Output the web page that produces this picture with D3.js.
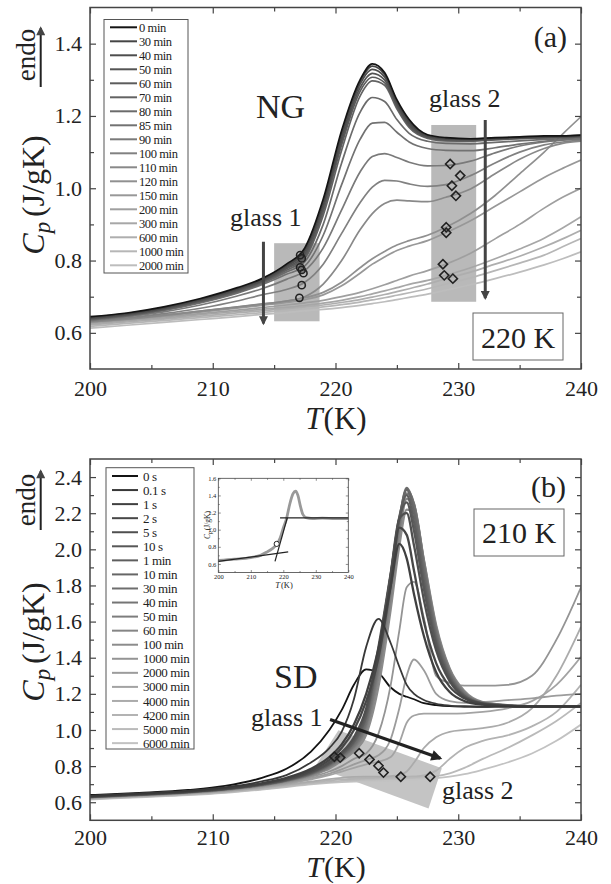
<!DOCTYPE html>
<html>
<head>
<meta charset="utf-8">
<script src="https://cdn.jsdelivr.net/npm/d3@7"></script>
<style>
  body { margin: 0; background: #fff; }
  svg text { font-family: 'Liberation Serif', 'Times New Roman', serif; fill: #222; }
</style>
</head>
<body>
<div id="chart"></div>
<script>

// Data, panel (a): NG, annealed at 220 K

var tempsA = [200, 203, 206, 209, 212, 214, 216, 217.5, 219, 220.5, 222, 223, 224, 225, 226, 227.5, 229, 231, 233, 235, 237, 238.5, 240];

var namesA = ['0 min', '30 min', '40 min', '50 min', '60 min', '70 min', '80 min', '85 min', '90 min', '100 min',
  '110 min', '120 min', '150 min', '200 min', '300 min', '600 min', '1000 min', '2000 min'];

var cpA = [
  [0.645,0.655,0.672,0.695,0.725,0.750,0.790,0.835,0.970,1.160,1.300,1.344,1.320,1.245,1.190,1.148,1.140,1.137,1.140,1.142,1.145,1.145,1.147],
  [0.643,0.653,0.670,0.693,0.722,0.748,0.787,0.830,0.960,1.150,1.295,1.338,1.315,1.240,1.185,1.146,1.138,1.136,1.139,1.141,1.143,1.144,1.146],
  [0.641,0.652,0.668,0.691,0.720,0.745,0.784,0.825,0.955,1.140,1.288,1.329,1.308,1.235,1.180,1.144,1.137,1.135,1.138,1.140,1.142,1.143,1.145],
  [0.640,0.650,0.667,0.690,0.718,0.743,0.780,0.818,0.945,1.130,1.278,1.318,1.300,1.230,1.175,1.142,1.135,1.134,1.137,1.139,1.141,1.142,1.144],
  [0.638,0.649,0.665,0.688,0.716,0.741,0.777,0.812,0.935,1.120,1.268,1.307,1.292,1.225,1.172,1.140,1.133,1.132,1.135,1.138,1.140,1.141,1.143],
  [0.637,0.648,0.664,0.686,0.714,0.739,0.773,0.806,0.925,1.105,1.255,1.297,1.285,1.220,1.168,1.138,1.131,1.130,1.134,1.137,1.139,1.140,1.142],
  [0.636,0.647,0.663,0.685,0.712,0.736,0.768,0.797,0.900,1.070,1.210,1.251,1.240,1.190,1.152,1.130,1.124,1.123,1.127,1.131,1.135,1.137,1.140],
  [0.635,0.646,0.662,0.683,0.710,0.733,0.762,0.785,0.870,1.010,1.135,1.180,1.182,1.155,1.128,1.110,1.105,1.104,1.112,1.122,1.130,1.134,1.137],
  [0.634,0.644,0.658,0.677,0.702,0.722,0.748,0.772,0.835,0.940,1.045,1.088,1.096,1.085,1.072,1.062,1.063,1.075,1.098,1.117,1.128,1.133,1.136],
  [0.632,0.641,0.653,0.668,0.688,0.705,0.720,0.740,0.790,0.875,0.960,1.003,1.022,1.020,1.012,1.005,1.010,1.035,1.070,1.100,1.120,1.128,1.133],
  [0.630,0.638,0.648,0.660,0.672,0.680,0.688,0.700,0.735,0.800,0.885,0.930,0.958,0.967,0.965,0.963,0.975,0.998,1.040,1.080,1.110,1.124,1.130],
  [0.632,0.640,0.650,0.660,0.671,0.679,0.688,0.697,0.712,0.740,0.780,0.805,0.825,0.843,0.855,0.870,0.892,0.930,0.980,1.040,1.100,1.150,1.198],
  [0.630,0.638,0.647,0.657,0.668,0.676,0.684,0.692,0.705,0.730,0.765,0.790,0.810,0.828,0.840,0.855,0.877,0.910,0.950,0.990,1.030,1.055,1.078],
  [0.628,0.636,0.644,0.653,0.663,0.670,0.677,0.683,0.690,0.700,0.712,0.722,0.733,0.745,0.757,0.772,0.790,0.820,0.860,0.900,0.945,0.975,1.000],
  [0.625,0.633,0.641,0.650,0.659,0.665,0.671,0.676,0.682,0.690,0.700,0.708,0.716,0.725,0.734,0.745,0.759,0.780,0.805,0.832,0.862,0.890,0.921],
  [0.622,0.630,0.638,0.646,0.655,0.661,0.667,0.672,0.677,0.684,0.692,0.699,0.706,0.714,0.722,0.735,0.750,0.768,0.790,0.812,0.838,0.860,0.884],
  [0.618,0.626,0.634,0.642,0.650,0.656,0.662,0.667,0.672,0.678,0.685,0.691,0.697,0.704,0.711,0.722,0.735,0.752,0.772,0.793,0.815,0.838,0.861],
  [0.613,0.621,0.629,0.637,0.645,0.651,0.656,0.661,0.665,0.670,0.676,0.681,0.686,0.692,0.698,0.707,0.718,0.733,0.750,0.768,0.788,0.805,0.824]
];

var circlesA = [[217.12,0.815],[217.25,0.806],[217.12,0.781],[217.25,0.774],[217.39,0.765],[217.25,0.732],[217.06,0.697]];
var diamondsA = [[229.34,1.067],[230.16,1.035],[229.48,1.007],[229.81,0.979],[229.02,0.892],[229.02,0.877],[228.75,0.790],[228.86,0.759],[229.56,0.750]];
var boxesA = [[215.0, 218.7, 0.632, 0.848], [227.8, 231.46, 0.686, 1.175]];   // T0, T1, Cp0, Cp1
var arrowsA = [[[214.13,0.852],[214.13,0.626]], [[232.2,1.189],[232.2,0.696]]];

// Data, panel (b): SD, annealed at 210 K

var tempsB = [200, 204, 208, 211, 214, 216, 218, 219.5, 220.5, 221.5, 222.5, 223.5, 224.5, 225.2, 225.8, 226.4, 227.2, 228.2, 229.3, 230.5, 232, 234, 236, 238, 240];

var namesB = ['0 s', '0.1 s', '1 s', '2 s', '5 s', '10 s', '1 min', '10 min', '30 min', '40 min', '50 min', '60 min',
  '100 min', '1000 min', '2000 min', '3000 min', '4000 min', '4200 min', '5000 min', '6000 min'];

var cpB = [
  [0.640,0.652,0.668,0.690,0.735,0.785,0.880,1.000,1.110,1.250,1.335,1.315,1.235,1.200,1.184,1.170,1.148,1.138,1.132,1.130,1.128,1.130,1.130,1.128,1.130],
  [0.635,0.648,0.663,0.682,0.715,0.750,0.820,0.900,0.990,1.170,1.460,1.615,1.480,1.350,1.250,1.200,1.166,1.145,1.135,1.130,1.130,1.130,1.130,1.130,1.130],
  [0.633,0.646,0.660,0.678,0.705,0.735,0.785,0.850,0.920,1.030,1.200,1.450,1.800,2.030,1.950,1.750,1.520,1.320,1.210,1.160,1.140,1.132,1.130,1.130,1.130],
  [0.632,0.645,0.659,0.676,0.702,0.730,0.775,0.835,0.900,1.000,1.160,1.400,1.800,2.120,2.080,1.880,1.600,1.370,1.240,1.175,1.145,1.133,1.130,1.130,1.130],
  [0.632,0.644,0.658,0.674,0.700,0.726,0.768,0.820,0.875,0.960,1.120,1.460,1.870,2.170,2.200,2.020,1.720,1.440,1.270,1.180,1.145,1.134,1.130,1.130,1.130],
  [0.631,0.644,0.658,0.674,0.699,0.724,0.765,0.815,0.868,0.945,1.100,1.440,1.860,2.170,2.260,2.100,1.780,1.470,1.280,1.185,1.146,1.134,1.130,1.130,1.130],
  [0.631,0.643,0.657,0.673,0.698,0.723,0.762,0.812,0.863,0.935,1.080,1.430,1.860,2.180,2.300,2.150,1.820,1.490,1.290,1.188,1.147,1.135,1.130,1.130,1.130],
  [0.630,0.643,0.657,0.673,0.698,0.722,0.760,0.810,0.860,0.930,1.070,1.420,1.850,2.170,2.330,2.200,1.860,1.510,1.300,1.190,1.147,1.135,1.130,1.130,1.130],
  [0.630,0.642,0.656,0.672,0.697,0.721,0.758,0.806,0.855,0.920,1.050,1.390,1.830,2.160,2.340,2.240,1.900,1.530,1.310,1.195,1.148,1.135,1.130,1.130,1.130],
  [0.629,0.642,0.656,0.672,0.696,0.720,0.756,0.802,0.850,0.912,1.035,1.360,1.800,2.140,2.330,2.250,1.920,1.550,1.320,1.200,1.150,1.136,1.130,1.130,1.130],
  [0.629,0.641,0.655,0.671,0.695,0.719,0.754,0.798,0.845,0.905,1.020,1.330,1.770,2.120,2.310,2.250,1.930,1.560,1.330,1.205,1.151,1.136,1.130,1.130,1.130],
  [0.628,0.641,0.655,0.670,0.694,0.717,0.751,0.793,0.838,0.895,1.000,1.290,1.730,2.080,2.280,2.240,1.940,1.570,1.335,1.210,1.152,1.137,1.130,1.130,1.130],
  [0.628,0.640,0.654,0.669,0.693,0.715,0.747,0.787,0.830,0.882,0.975,1.240,1.670,2.020,2.220,2.210,1.940,1.580,1.340,1.215,1.154,1.138,1.130,1.130,1.130],
  [0.627,0.640,0.653,0.667,0.690,0.710,0.740,0.770,0.800,0.840,0.870,0.980,1.250,1.550,1.790,1.820,1.620,1.300,1.260,1.245,1.245,1.250,1.300,1.500,1.790],
  [0.625,0.638,0.651,0.665,0.687,0.706,0.733,0.758,0.782,0.810,0.835,0.860,0.950,1.120,1.300,1.390,1.330,1.200,1.160,1.150,1.155,1.165,1.175,1.190,1.200],
  [0.624,0.636,0.649,0.663,0.684,0.702,0.727,0.750,0.770,0.790,0.810,0.825,0.850,0.930,1.040,1.080,1.090,1.090,1.090,1.092,1.100,1.120,1.160,1.250,1.405],
  [0.622,0.634,0.647,0.660,0.680,0.697,0.715,0.728,0.735,0.740,0.742,0.742,0.745,0.750,0.770,0.820,0.900,0.960,0.990,1.000,1.010,1.040,1.120,1.300,1.571],
  [0.620,0.632,0.645,0.658,0.677,0.693,0.710,0.720,0.726,0.730,0.733,0.735,0.737,0.739,0.741,0.743,0.748,0.775,0.840,0.900,0.940,0.970,1.020,1.100,1.250],
  [0.618,0.630,0.642,0.655,0.673,0.688,0.704,0.713,0.718,0.722,0.725,0.727,0.729,0.731,0.733,0.735,0.738,0.745,0.760,0.790,0.840,0.900,0.970,1.050,1.150],
  [0.615,0.627,0.639,0.652,0.670,0.684,0.699,0.707,0.711,0.714,0.716,0.718,0.720,0.722,0.724,0.726,0.729,0.734,0.742,0.755,0.780,0.820,0.870,0.940,1.030]
];

var diamondsB = [[219.91,0.852],[220.38,0.847],[221.93,0.871],[222.77,0.837],[223.5,0.802],[223.91,0.764],[225.32,0.741],[227.71,0.741]];
var glassBoxB = [[220.24,0.999],[228.66,0.788],[227.58,0.566],[218.34,0.797]];
var arrowB = [[219.56,1.058],[228.53,0.843]];

// Inset of panel (b): onset construction

var insetT  = [200, 205, 210, 213, 215, 216.5, 218, 219, 220, 221, 222, 223, 223.8, 224.5, 225.3, 226, 227, 229, 232, 236, 240];
var insetCp = [0.640,0.655,0.675,0.700,0.740,0.775,0.830,0.900,1.020,1.130,1.300,1.420,1.450,1.400,1.270,1.180,1.140,1.130,1.135,1.130,1.130];
var insetLines = [[[200,0.63],[221.5,0.74]], [[217.45,0.63],[221.23,1.139]], [[219,1.139],[240,1.139]]];
var insetCircle = [217.97, 0.834];

// Tick values

var xMajor = [200, 210, 220, 230, 240];
var xMinor = [205, 215, 225, 235];
var yMajorA = [0.6, 0.8, 1.0, 1.2, 1.4];
var yMinorA = [0.7, 0.9, 1.1, 1.3];
var yMajorB = [0.6, 0.8, 1.0, 1.2, 1.4, 1.6, 1.8, 2.0, 2.2, 2.4];
var yMinorB = [0.7, 0.9, 1.1, 1.3, 1.5, 1.7, 1.9, 2.1, 2.3];
var insetYMajor = [0.6, 0.8, 1.0, 1.2, 1.4, 1.6];
var insetYMinor = [0.7, 0.9, 1.1, 1.3, 1.5];

// Dimensions

var width = 611;
var height = 884;
var left = 90, right = 581;

var svg = d3.select("#chart")
  .append("svg")
  .attr("width", width)
  .attr("height", height);

svg.append("rect").attr("width", width).attr("height", height).attr("fill", "#fff");

var defs = svg.append("defs");

function arrowMarker(id, color, w, h) {
  defs.append("marker")
    .attr("id", id)
    .attr("viewBox", "0 0 10 10")
    .attr("refX", 8).attr("refY", 5)
    .attr("markerUnits", "userSpaceOnUse")
    .attr("markerWidth", w).attr("markerHeight", h)
    .attr("orient", "auto")
    .append("path")
    .attr("d", "M0,0 L10,5 L0,10 Z")
    .attr("fill", color);
}
arrowMarker("headA", "#444", 12, 9);
arrowMarker("headB", "#222", 15, 11);

var x = d3.scaleLinear().domain([200, 240]).range([left, right]);

function shade(n, first, from, to) {
  var ramp = d3.interpolateRgb(from, to);
  return d3.range(n).map(function (i) { return i === 0 ? first : ramp((i - 1) / (n - 2)); });
}

// Axes on all four sides, ticks pointing inward

function frameAxes(g, xs, ys, top, bottom, yMajor, yMinor, opts) {
  var big = opts.big, small = opts.small;

  g.append("g").attr("transform", "translate(0," + bottom + ")")
    .call(d3.axisBottom(xs).tickValues(xMajor).tickSize(-big).tickPadding(opts.xPad).tickFormat(d3.format("d")));
  g.append("g").attr("transform", "translate(0," + bottom + ")")
    .call(d3.axisBottom(xs).tickValues(xMinor).tickSize(-small).tickFormat(""));
  g.append("g").attr("transform", "translate(0," + top + ")")
    .call(d3.axisTop(xs).tickValues(xMajor).tickSize(-big).tickFormat(""));
  g.append("g").attr("transform", "translate(0," + top + ")")
    .call(d3.axisTop(xs).tickValues(xMinor).tickSize(-small).tickFormat(""));

  g.append("g").attr("transform", "translate(" + xs.range()[0] + ",0)")
    .call(d3.axisLeft(ys).tickValues(yMajor).tickSize(-big).tickPadding(opts.yPad).tickFormat(d3.format(".1f")));
  g.append("g").attr("transform", "translate(" + xs.range()[0] + ",0)")
    .call(d3.axisLeft(ys).tickValues(yMinor).tickSize(-small).tickFormat(""));
  g.append("g").attr("transform", "translate(" + xs.range()[1] + ",0)")
    .call(d3.axisRight(ys).tickValues(yMajor).tickSize(-big).tickFormat(""));
  g.append("g").attr("transform", "translate(" + xs.range()[1] + ",0)")
    .call(d3.axisRight(ys).tickValues(yMinor).tickSize(-small).tickFormat(""));

  g.selectAll(".domain").remove();
  g.selectAll(".tick line").attr("stroke", "#444").attr("stroke-width", opts.tickW);
  g.selectAll("g").attr("font-family", null).attr("font-size", null);
  g.selectAll(".tick text").style("font-size", opts.font + "px").attr("fill", "#222");

  g.append("rect")
    .attr("x", xs.range()[0]).attr("y", top)
    .attr("width", xs.range()[1] - xs.range()[0]).attr("height", bottom - top)
    .attr("fill", "none").attr("stroke", "#444").attr("stroke-width", opts.frameW);
}

function yTitle(g, cx, cy, size) {
  var t = g.append("text")
    .attr("transform", "translate(" + cx + "," + cy + ") rotate(-90)")
    .attr("text-anchor", "middle")
    .style("font-size", size + "px");
  t.append("tspan").style("font-style", "italic").text("C");
  t.append("tspan").style("font-style", "italic").style("font-size", (size * 0.72) + "px").attr("dy", size * 0.2).text("p");
  t.append("tspan").attr("dy", -size * 0.2).attr("dx", size * 0.15).text("(J/gK)");
}

function xTitle(g, cx, by, size) {
  var t = g.append("text")
    .attr("x", cx).attr("y", by)
    .attr("text-anchor", "middle")
    .style("font-size", size + "px");
  t.append("tspan").style("font-style", "italic").text("T");
  t.append("tspan").attr("dx", 1).text("(K)");
}

function endo(g, cy, y0, y1) {
  g.append("text")
    .attr("transform", "translate(35," + cy + ") rotate(-90)")
    .attr("text-anchor", "middle")
    .style("font-size", "27px")
    .text("endo");
  g.append("line")
    .attr("x1", 40.7).attr("x2", 40.7)
    .attr("y1", y0).attr("y2", y1 + 4)
    .attr("stroke", "#222").attr("stroke-width", 2)
    .attr("marker-end", "url(#headA)");
}

function legend(g, names, colors, box, y0, step, lx0, lx1, tx, size) {
  g.append("rect")
    .attr("x", box[0]).attr("y", box[1]).attr("width", box[2]).attr("height", box[3])
    .attr("fill", "#fff").attr("stroke", "#555").attr("stroke-width", 1);
  names.forEach(function (n, i) {
    var yy = y0 + i * step;
    g.append("line")
      .attr("x1", lx0).attr("x2", lx1).attr("y1", yy).attr("y2", yy)
      .attr("stroke", colors[i]).attr("stroke-width", 2);
    g.append("text")
      .attr("x", tx).attr("y", yy).attr("dy", "0.35em")
      .style("font-size", size + "px")
      .style("letter-spacing", "-0.4px")
      .text(n);
  });
}

function diamond(g, xs, ys, d, r) {
  var cx = xs(d[0]), cy = ys(d[1]);
  g.append("path")
    .attr("d", "M" + cx + "," + (cy - r) + "L" + (cx + r) + "," + cy + "L" + cx + "," + (cy + r) + "L" + (cx - r) + "," + cy + "Z")
    .attr("fill", "none").attr("stroke", "#222").attr("stroke-width", 1.6);
}

// Panel (a)

var topA = 7.5, bottomA = 369;
var yA = d3.scaleLinear().domain([0.5, 1.5]).range([bottomA, topA]);
var gA = svg.append("g");
var colorsA = shade(namesA.length, "#141414", "#454545", "#bdbdbd");

defs.append("clipPath").attr("id", "clipA").append("rect")
  .attr("x", left).attr("y", topA).attr("width", right - left).attr("height", bottomA - topA);
defs.append("clipPath").attr("id", "clipB").append("rect")
  .attr("x", left).attr("y", 459).attr("width", right - left).attr("height", 820.3 - 459);

var plotA = gA.append("g").attr("clip-path", "url(#clipA)");

boxesA.forEach(function (b) {
  plotA.append("rect")
    .attr("x", x(b[0])).attr("y", yA(b[3]))
    .attr("width", x(b[1]) - x(b[0])).attr("height", yA(b[2]) - yA(b[3]))
    .attr("fill", "#b9b9b9");
});

var lineA = d3.line()
  .x(function (d, i) { return x(tempsA[i]); })
  .y(function (d) { return yA(d); })
  .curve(d3.curveMonotoneX);

for (var i = cpA.length - 1; i >= 0; i--) {
  plotA.append("path")
    .attr("d", lineA(cpA[i]))
    .attr("fill", "none")
    .attr("stroke", colorsA[i])
    .attr("stroke-width", 1.7);
}

arrowsA.forEach(function (a) {
  plotA.append("line")
    .attr("x1", x(a[0][0])).attr("y1", yA(a[0][1]))
    .attr("x2", x(a[1][0])).attr("y2", yA(a[1][1]))
    .attr("stroke", "#444").attr("stroke-width", 3)
    .attr("marker-end", "url(#headA)");
});

circlesA.forEach(function (c) {
  plotA.append("circle")
    .attr("cx", x(c[0])).attr("cy", yA(c[1])).attr("r", 3.6)
    .attr("fill", "none").attr("stroke", "#222").attr("stroke-width", 1.6);
});
diamondsA.forEach(function (d) { diamond(plotA, x, yA, d, 4.6); });

frameAxes(gA, x, yA, topA, bottomA, yMajorA, yMinorA,
  { big: 6, small: 4, xPad: 11, yPad: 8, font: 22, tickW: 1.2, frameW: 1.5 });

legend(gA, namesA, colorsA, [104, 19.5, 84, 253.5], 27.3, 14.0, 110, 137, 139, 12.5);

gA.append("text").attr("x", 567).attr("y", 47).attr("text-anchor", "end").style("font-size", "30px").text("(a)");
gA.append("text").attr("x", 256).attr("y", 118).style("font-size", "34px").text("NG");
gA.append("text").attr("x", 429).attr("y", 107).style("font-size", "26px").text("glass 2");
gA.append("text").attr("x", 230).attr("y", 226).style("font-size", "26px").text("glass 1");
gA.append("rect").attr("x", 473).attr("y", 313).attr("width", 90).attr("height", 47)
  .attr("fill", "#fff").attr("stroke", "#666").attr("stroke-width", 1);
gA.append("text").attr("x", 518).attr("y", 348).attr("text-anchor", "middle").style("font-size", "30px").text("220 K");

yTitle(gA, 44, 195, 32);
xTitle(gA, 336, 429, 31);
endo(gA, 55, 87, 24);

// Panel (b)

var topB = 459, bottomB = 820.3;
var yB = d3.scaleLinear().domain([0.5, 2.5]).range([bottomB, topB]);
var gB = svg.append("g");
var colorsB = shade(namesB.length, "#141414", "#383838", "#c2c2c2");

var plotB = gB.append("g").attr("clip-path", "url(#clipB)");

plotB.append("path")
  .attr("d", d3.line().x(function (d) { return x(d[0]); }).y(function (d) { return yB(d[1]); })(glassBoxB) + "Z")
  .attr("fill", "#c4c4c4");

var lineB = d3.line()
  .x(function (d, i) { return x(tempsB[i]); })
  .y(function (d) { return yB(d); })
  .curve(d3.curveMonotoneX);

// the 0 s curve goes underneath, so its plateau is covered by the grey band
var orderB = [0].concat(d3.range(cpB.length - 1, 0, -1));
orderB.forEach(function (j) {
  plotB.append("path")
    .attr("d", lineB(cpB[j]))
    .attr("fill", "none")
    .attr("stroke", colorsB[j])
    .attr("stroke-width", (j >= 2 && j <= 12) ? 2.3 : 1.8);
});

plotB.append("line")
  .attr("x1", x(arrowB[0][0])).attr("y1", yB(arrowB[0][1]))
  .attr("x2", x(arrowB[1][0])).attr("y2", yB(arrowB[1][1]))
  .attr("stroke", "#222").attr("stroke-width", 3.2)
  .attr("marker-end", "url(#headB)");

diamondsB.forEach(function (d) { diamond(plotB, x, yB, d, 4.6); });

frameAxes(gB, x, yB, topB, bottomB, yMajorB, yMinorB,
  { big: 6, small: 4, xPad: 9, yPad: 8, font: 22, tickW: 1.2, frameW: 1.5 });

legend(gB, namesB, colorsB, [106, 467.7, 88, 281.3], 476, 14.06, 112, 138, 143, 13);

gB.append("text").attr("x", 566).attr("y", 497).attr("text-anchor", "end").style("font-size", "30px").text("(b)");
gB.append("rect").attr("x", 474).attr("y", 509).attr("width", 90).attr("height", 47)
  .attr("fill", "#fff").attr("stroke", "#666").attr("stroke-width", 1);
gB.append("text").attr("x", 519).attr("y", 543).attr("text-anchor", "middle").style("font-size", "30px").text("210 K");
gB.append("text").attr("x", 274).attr("y", 688).style("font-size", "34px").text("SD");
gB.append("text").attr("x", 251).attr("y", 726).style("font-size", "26px").text("glass 1");
gB.append("text").attr("x", 442).attr("y", 799).style("font-size", "26px").text("glass 2");

yTitle(gB, 44, 642, 32);
xTitle(gB, 336, 876.5, 30);
endo(gB, 500, 530, 467);

// Inset of panel (b)

var xi = d3.scaleLinear().domain([200, 240]).range([218.3, 348.3]);
var yi = d3.scaleLinear().domain([0.5, 1.6]).range([572.5, 478.3]);
var gI = svg.append("g");

gI.append("rect").attr("x", 218.3).attr("y", 478.3).attr("width", 130).attr("height", 94.2).attr("fill", "#fff");

gI.append("path")
  .attr("d", d3.line().x(function (d, i) { return xi(insetT[i]); }).y(function (d) { return yi(d); })
    .curve(d3.curveMonotoneX)(insetCp))
  .attr("fill", "none").attr("stroke", "#999").attr("stroke-width", 2.8);

insetLines.forEach(function (l) {
  gI.append("line")
    .attr("x1", xi(l[0][0])).attr("y1", yi(l[0][1]))
    .attr("x2", xi(l[1][0])).attr("y2", yi(l[1][1]))
    .attr("stroke", "#222").attr("stroke-width", 1.2);
});

gI.append("circle")
  .attr("cx", xi(insetCircle[0])).attr("cy", yi(insetCircle[1])).attr("r", 2.6)
  .attr("fill", "#fff").attr("stroke", "#222").attr("stroke-width", 1);

frameAxes(gI, xi, yi, 478.3, 572.5, insetYMajor, insetYMinor,
  { big: 2.5, small: 1.5, xPad: 2, yPad: 2, font: 6.5, tickW: 0.6, frameW: 0.8 });

yTitle(gI, 210, 525, 7.5);
xTitle(gI, 284, 588, 8.5);

</script>
</body>
</html>
